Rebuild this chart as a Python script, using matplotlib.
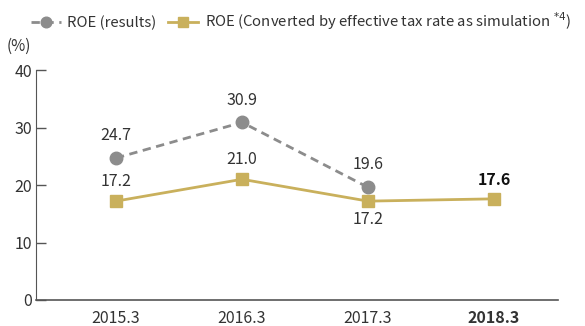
import matplotlib.pyplot as plt

plt.rcParams['font.family'] = ['Noto Sans CJK JP', 'DejaVu Sans']

# data
categories = ['2015.3', '2016.3', '2017.3', '2018.3']
roe_results = [24.7, 30.9, 19.6]
roe_converted = [17.2, 21.0, 17.2, 17.6]
y_ticks = [0, 10, 20, 30, 40]

gray = '#8c8c8c'
gold = '#c9b05c'
text_col = '#333333'

fig = plt.figure(figsize=(5.85, 3.26), dpi=100)
ax = fig.add_axes([0.0615, 0.0798, 0.8925, 0.7052])

x_all = list(range(len(categories)))
ax.plot(x_all[:len(roe_results)], roe_results, color=gray, linestyle=(0, (3, 2)),
        linewidth=2, marker='o', markersize=9, label='ROE (results)')
ax.plot(x_all, roe_converted, color=gold, linewidth=2, marker='s', markersize=9,
        label='ROE (Converted by effective tax rate as simulation $^{*4}$)')

# value labels
for i, v in enumerate(roe_results):
    ax.annotate(f'{v:.1f}', (i, v), xytext=(0, 10), textcoords='offset points',
                ha='center', va='bottom', fontsize=11.5, color=text_col)
for i, v in enumerate(roe_converted):
    if i == 2:
        ax.annotate(f'{v:.1f}', (i, v), xytext=(0, -7), textcoords='offset points',
                    ha='center', va='top', fontsize=11.5, color=text_col)
    else:
        bold = i == len(roe_converted) - 1
        ax.annotate(f'{v:.1f}', (i, v), xytext=(0, 8), textcoords='offset points',
                    ha='center', va='bottom', fontsize=11.5, color='#111111' if bold else text_col,
                    fontweight='bold' if bold else 'normal')

ax.set_xlim(-0.635, 3.508)
ax.set_ylim(0, 40)
ax.set_yticks(y_ticks)
ax.set_xticks(x_all)
ax.set_xticklabels(categories)
ax.get_xticklabels()[-1].set_fontweight('bold')
ax.tick_params(axis='y', direction='in', length=7, width=1, colors='#555555',
               labelcolor=text_col, labelsize=11.5, pad=3)
ax.tick_params(axis='x', length=0, labelcolor=text_col, labelsize=11.5, pad=7)
for s in ['top', 'right']:
    ax.spines[s].set_visible(False)
ax.spines['left'].set_color('#555555')
ax.spines['bottom'].set_color('#555555')
ax.spines['bottom'].set_linewidth(1.2)

fig.text(0.012, 0.858, '(%)', fontsize=11, color=text_col, va='center')
fig.legend(loc='upper left', bbox_to_anchor=(0.03, 1.01), ncol=2, frameon=False,
           fontsize=10.7, handlelength=2.0, columnspacing=0.8, handletextpad=0.45,
           markerscale=0.85, labelcolor=text_col)

fig.savefig('out.png', dpi=100)
